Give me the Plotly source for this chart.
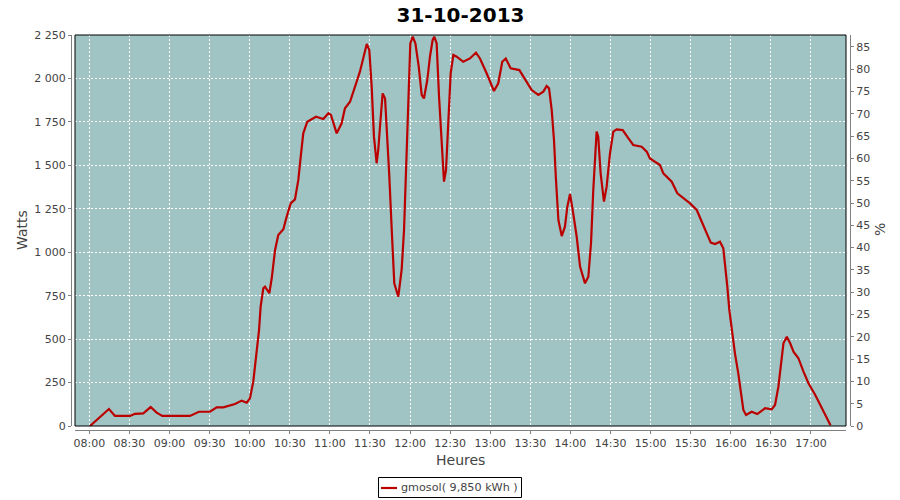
import plotly.graph_objects as go

# minutes after 08:00 and power in watts
minutes = [0.5, 14.7, 19.2, 30.5, 34.2, 40.4, 45.9, 50.4, 54.6, 75.3, 82, 90.3, 95.3, 100.3, 109, 114, 117.8,
           120.2, 122.7, 125.2, 127, 128.2, 130.2, 131.5, 134.7, 136.5, 139, 141.4, 145.2, 147.7, 150.7, 153.9,
           156.4, 158.2, 160.1, 163.1, 169.6, 175.1, 178.9, 180.8, 185.1, 188.8, 191.3, 195.1, 198.1, 202.5,
           207.6, 209.5, 211.3, 213, 215, 216.2, 217.5, 219.5, 221.3, 222.5, 224.5, 226.3, 228.2, 231.2, 233.7,
           235.5, 237, 238.7, 240.2, 242, 244, 246.5, 248.7, 250.4, 252.9, 254.9, 256.9, 258.1, 259.9, 261.7,
           263.7, 265.4, 266.9, 268.6, 270.4, 272.4, 274.9, 279.8, 284.8, 289.3, 292.3, 297.3, 302.8, 306, 309,
           311.6, 315.3, 321.8, 327.3, 331, 336, 339.7, 342.2, 344, 346, 347.7, 349.2, 351, 353.5, 355.9, 357.7,
           359.7, 361.7, 364.7, 367.2, 370.9, 373.4, 375.4, 377.1, 378.4, 379.6, 380.8, 382.6, 385.1, 387.1,
           389.6, 392.1, 394.6, 399.1, 403.3, 407, 413.3, 417.1, 419.5, 423.3, 427, 429.5, 435.8, 440, 444.5,
           449.5, 454.5, 458.3, 462, 465, 468.2, 471.9, 474.4, 476.2, 477.4, 478.9, 481.1, 483.1, 485.6, 487.4,
           489.4, 491.4, 495.6, 499.8, 505.6, 510.6, 513.1, 515.6, 517.4, 519.4, 521.9, 524.4, 526.9, 530.6,
           534.4, 538.1, 543.2, 546.9, 550.6, 554.6]
watts = [0, 98, 58, 58, 70, 73, 109, 77, 58, 58, 82, 82, 107, 107, 127, 146, 134,
         159, 255, 418, 552, 687, 792, 802, 764, 850, 1013, 1099, 1132, 1205, 1281, 1304,
         1416, 1550, 1684, 1751, 1780, 1767, 1800, 1790, 1684, 1742, 1828, 1866, 1933, 2039,
         2198, 2164, 1952, 1665, 1512, 1588, 1722, 1914, 1885, 1722, 1435, 1128, 821, 744, 898,
         1128, 1512, 1895, 2202, 2240, 2202, 2068, 1905, 1885, 1991, 2125, 2221, 2240, 2202, 1895,
         1588, 1406, 1473, 1742, 2030, 2135, 2125, 2096, 2115, 2148, 2115, 2030, 1928, 1972, 2096,
         2115, 2058, 2048, 1981, 1933, 1905, 1924, 1956, 1943, 1818, 1646, 1416, 1185, 1093, 1147, 1262,
         1335, 1243, 1089, 917, 821, 859, 1051, 1358, 1550, 1694, 1665, 1454, 1291, 1377,
         1569, 1694, 1707, 1703, 1656, 1617, 1607, 1579, 1540, 1521, 1502, 1454, 1406, 1339, 1310,
         1281, 1243, 1176, 1109, 1055, 1047, 1060, 1023, 898, 802, 668, 533, 418, 303, 188,
         92, 63, 82, 69, 102, 96, 121, 226, 361, 476, 514, 476, 428, 390,
         313, 246, 178, 121, 63, 5]

title_text = "31-10-2013"
series_name = "gmosol( 9,850 kWh )"
y_label = "Watts"
y2_label = "%"
x_label = "Heures"


def to_ts(m):
    s = int(round(m * 60)) + 8 * 3600
    return "2013-10-31 %02d:%02d:%02d" % (s // 3600, (s % 3600) // 60, s % 60)


times = [to_ts(m) for m in minutes]

font_main = "DejaVu Sans"
grey_txt = "#444444"
axis_grey = "#808080"
line_red = "#BB0000"

fig = go.Figure()
fig.add_trace(go.Scatter(x=times, y=watts, mode="lines", name=series_name,
                         line=dict(color=line_red, width=2.2), showlegend=False))
fig.add_trace(go.Scatter(x=[times[0]], y=[None], yaxis="y2", showlegend=False,
                         hoverinfo="skip", mode="lines"))

L, R, T, B = 71, 850, 35, 430
W = float(R - L)
H = float(B - T)


def px(xp):
    return (xp - L) / W


def py(yp):
    return (B - yp) / H


fig.update_layout(
    width=900, height=500,
    margin=dict(l=L, r=900 - R, t=T, b=500 - B, pad=0),
    paper_bgcolor="white",
    plot_bgcolor="#9FC4C3",
    separators=", ",
    font=dict(family=font_main, size=11, color=grey_txt),
    title=dict(text="<b>" + title_text + "</b>", x=0.5, xanchor="center", xref="paper",
               y=1 - 15 / 500.0, yref="container",
               yanchor="middle", font=dict(family=font_main, size=20, color="#000000")),
    xaxis=dict(type="date", domain=[4 / W, 1 - 4 / W], anchor="free", position=0, automargin=False,
               range=["2013-10-31 07:49:18", "2013-10-31 17:26:12"],
               tick0="2013-10-31 08:00", dtick=1800000, tickformat="%H:%M",
               showline=True, linecolor=axis_grey, linewidth=1,
               ticks="outside", ticklen=3, tickcolor=axis_grey,
               showgrid=True, gridcolor="white", griddash="2px,2px", gridwidth=1,
               zeroline=False, tickfont=dict(size=11, color=grey_txt)),
    yaxis=dict(domain=[4 / H, 1], anchor="free", position=0, automargin=False,
               range=[0, 2250], dtick=250, tick0=0, tickformat=",d",
               showline=True, linecolor=axis_grey, linewidth=1,
               ticks="outside", ticklen=3, tickcolor=axis_grey,
               showgrid=True, gridcolor="white", griddash="2px,2px", gridwidth=1,
               zeroline=False, tickfont=dict(size=11, color=grey_txt)),
    yaxis2=dict(overlaying="y", side="right", anchor="free", position=1, automargin=False,
                range=[0, 87.69], dtick=5, tick0=0,
                showline=True, linecolor=axis_grey, linewidth=1,
                ticks="outside", ticklen=3, tickcolor=axis_grey,
                showgrid=False, zeroline=False, tickfont=dict(size=11, color=grey_txt)),
    showlegend=False,
)

fig.add_shape(type="rect", xref="x domain", yref="y domain", x0=0, x1=1, y0=0, y1=1,
              line=dict(color="#000000", width=1), fillcolor="rgba(0,0,0,0)", layer="above")

# legend box drawn by hand
fig.add_shape(type="rect", xref="paper", yref="paper", x0=px(378.5), x1=px(521.5), y0=py(497.5), y1=py(477.5),
              line=dict(color="#000000", width=1), fillcolor="white")
fig.add_shape(type="line", xref="paper", yref="paper", x0=px(381), x1=px(397), y0=py(488), y1=py(488),
              line=dict(color=line_red, width=2.2))
fig.add_annotation(text=series_name, xref="paper", yref="paper", x=px(399), y=py(488),
                   showarrow=False, xanchor="left", yanchor="middle",
                   font=dict(size=11.2, color=grey_txt))

fig.add_annotation(text=y_label, xref="paper", yref="paper", x=px(22), y=py(230),
                   showarrow=False, textangle=-90, xanchor="center", yanchor="middle",
                   font=dict(size=14, color=grey_txt))
fig.add_annotation(text=y2_label, xref="paper", yref="paper", x=px(880), y=py(230),
                   showarrow=False, textangle=-90, xanchor="center", yanchor="middle",
                   font=dict(size=14, color=grey_txt))
fig.add_annotation(text=x_label, xref="paper", yref="paper", x=0.5, y=py(460),
                   showarrow=False, xanchor="center", yanchor="middle",
                   font=dict(size=14, color=grey_txt))

fig.write_html("out.html", config={"displayModeBar": False},
               post_script="document.body.style.margin='0';document.body.style.padding='0';")
